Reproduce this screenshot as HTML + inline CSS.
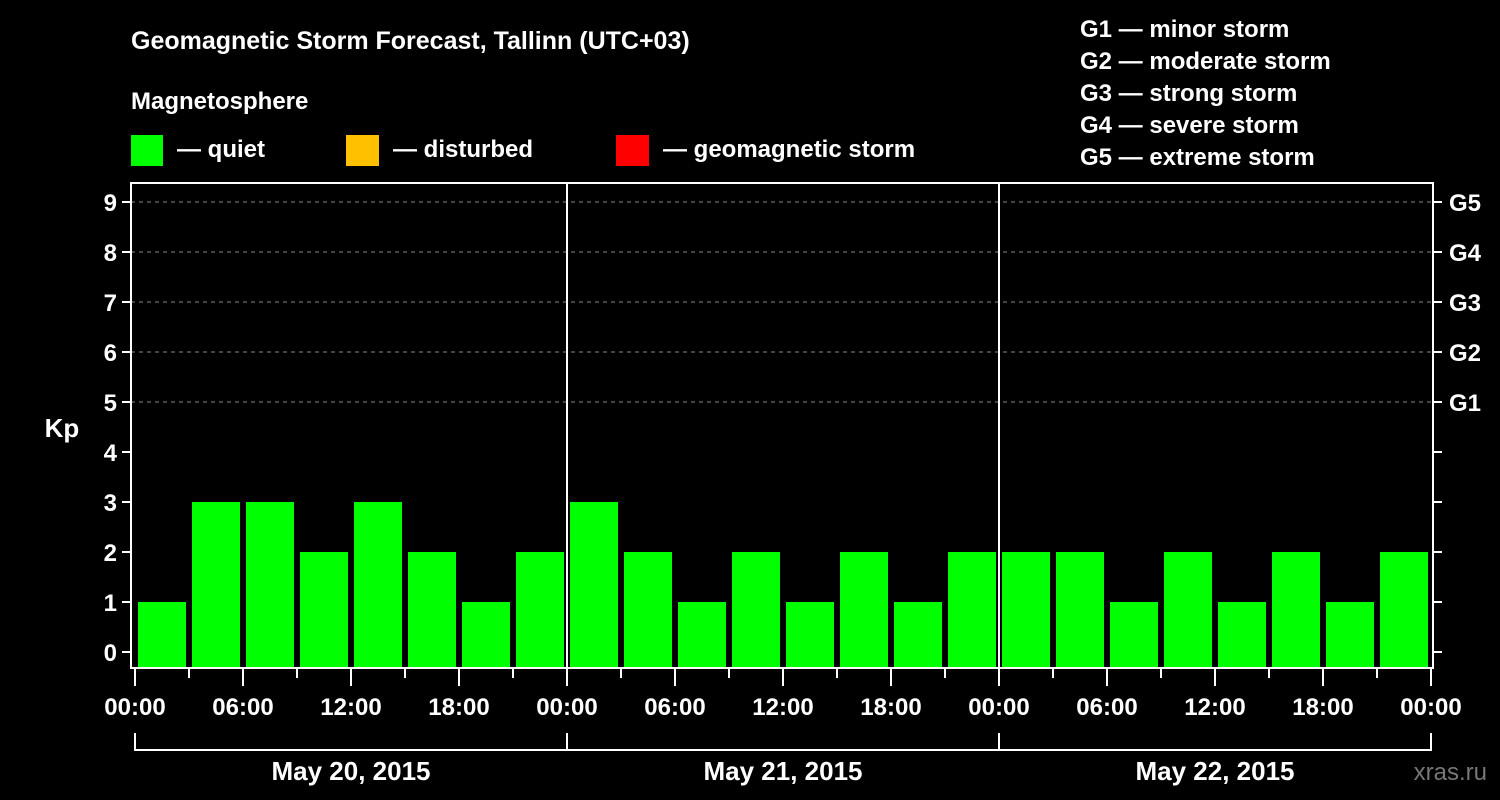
<!DOCTYPE html>
<html><head><meta charset="utf-8"><style>
html,body{margin:0;padding:0;background:#000;}
svg{display:block;font-family:"Liberation Sans",Arial,sans-serif;font-weight:bold;}
</style></head><body>
<svg id="chart" width="1500" height="800" viewBox="0 0 1500 800">
<rect x="0" y="0" width="1500" height="800" fill="#000"/>
<text x="131" y="49" fill="#fff" font-size="25">Geomagnetic Storm Forecast, Tallinn (UTC+03)</text>
<text x="131" y="109" fill="#fff" font-size="24">Magnetosphere</text>
<g><rect x="131" y="135" width="32" height="31" fill="#00ff00"/><text x="177" y="157" fill="#fff" font-size="24">— quiet</text></g>
<g><rect x="346" y="135" width="33" height="31" fill="#ffc000"/><text x="393" y="157" fill="#fff" font-size="24">— disturbed</text></g>
<g><rect x="616" y="135" width="33" height="31" fill="#ff0000"/><text x="663" y="157" fill="#fff" font-size="24">— geomagnetic storm</text></g>
<g fill="#fff" font-size="24">
<text x="1080" y="37">G1 — minor storm</text>
<text x="1080" y="69">G2 — moderate storm</text>
<text x="1080" y="101">G3 — strong storm</text>
<text x="1080" y="133">G4 — severe storm</text>
<text x="1080" y="165">G5 — extreme storm</text>
</g>
<text x="62" y="437" fill="#fff" font-size="26" text-anchor="middle">Kp</text>
<text x="1487" y="780" fill="#777" font-size="24" text-anchor="end" font-weight="normal">xras.ru</text>
<g id="plot"></g>
</svg>
<script>
const kpValues = [1,3,3,2,3,2,1,2, 3,2,1,2,1,2,1,2, 2,2,1,2,1,2,1,2];
const yTicks = [0,1,2,3,4,5,6,7,8,9];
const gLabels = ["G1","G2","G3","G4","G5"];
const hourLabels = ["00:00","06:00","12:00","18:00"];
const dayLabels = ["May 20, 2015","May 21, 2015","May 22, 2015"];

const NS = "http://www.w3.org/2000/svg";
const X0 = 135, HOUR = 18, L = 131, R = 1433, T = 183, B = 668;
const y = v => 652 - v * 50;
const x = h => X0 + h * HOUR;
const g = document.getElementById('plot');
function mk(tag, attrs, parent) {
  const e = document.createElementNS(NS, tag);
  for (const k in attrs) e.setAttribute(k, attrs[k]);
  (parent || g).appendChild(e);
  return e;
}
// grid lines for 5..9
yTicks.filter(v => v >= 5).forEach(v => {
  const ln = mk('line', {x1: L, x2: R, y1: y(v), y2: y(v), stroke: '#888', 'stroke-width': 1, 'stroke-dasharray': '4,4'});
  
  
});
// bars
kpValues.forEach((v, i) => {
  const c = v >= 5 ? '#ff0000' : (v >= 4 ? '#ffc000' : '#00ff00');
  const r = mk('rect', {x: x(i * 3) + 3, y: y(v), width: 48, height: (B - 1) - y(v), fill: c});
  
  
});
// day separators
for (let d = 1; d < dayLabels.length; d++) {
  const s = mk('line', {x1: x(d * 24), x2: x(d * 24), y1: T, y2: B, stroke: '#fff', 'stroke-width': 2});
  
  
}
// frame
const fr = mk('rect', {x: L, y: T, width: R - L, height: B - T, fill: 'none', stroke: '#fff', 'stroke-width': 2});


// y ticks and labels
yTicks.forEach(v => {
  mk('line', {x1: L - 9, x2: L, y1: y(v), y2: y(v), stroke: '#fff', 'stroke-width': 2});
  mk('line', {x1: R, x2: R + 9, y1: y(v), y2: y(v), stroke: '#fff', 'stroke-width': 2});
  const t = mk('text', {x: 117, y: y(v) + 9, fill: '#fff', 'font-size': 24, 'text-anchor': 'end'});
  t.textContent = v;
  
  
});
gLabels.forEach((lab, i) => {
  const t = mk('text', {x: 1449, y: y(5 + i) + 9, fill: '#fff', 'font-size': 24});
  t.textContent = lab;
  
  
});
// x ticks
const totalH = dayLabels.length * 24;
for (let h = 0; h <= totalH; h += 3) {
  const major = h % 6 === 0;
  mk('line', {x1: x(h), x2: x(h), y1: B, y2: major ? 686 : 678, stroke: '#fff', 'stroke-width': 2});
  if (major) {
    const t = mk('text', {x: x(h), y: 715, fill: '#fff', 'font-size': 24, 'text-anchor': 'middle'});
    t.textContent = hourLabels[(h / 6) % 4];
    
    
  }
}
// day brackets
mk('line', {x1: x(0), x2: x(totalH), y1: 750, y2: 750, stroke: '#fff', 'stroke-width': 2});
for (let d = 0; d <= dayLabels.length; d++) {
  mk('line', {x1: x(d * 24), x2: x(d * 24), y1: 733, y2: 751, stroke: '#fff', 'stroke-width': 2});
}
dayLabels.forEach((lab, d) => {
  const t = mk('text', {x: x(d * 24 + 12), y: 780, fill: '#fff', 'font-size': 26, 'text-anchor': 'middle'});
  t.textContent = lab;
  
  
});
</script>
</body></html>
